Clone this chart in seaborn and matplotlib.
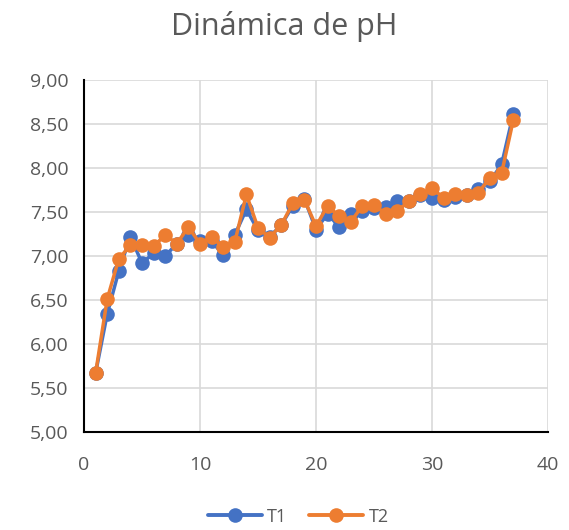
import numpy as np
import pandas as pd
import matplotlib
matplotlib.use("Agg")
import matplotlib.pyplot as plt
import seaborn as sns
from matplotlib.ticker import FuncFormatter, MultipleLocator

# ── Data ──
day = list(range(1, 38))
t1 = [5.67, 6.34, 6.83, 7.22, 6.92, 7.03, 7.00, 7.14, 7.24, 7.17,
      7.17, 7.01, 7.24, 7.53, 7.29, 7.22, 7.35, 7.57, 7.65, 7.30,
      7.48, 7.33, 7.48, 7.51, 7.54, 7.56, 7.62, 7.62, 7.69, 7.66,
      7.64, 7.67, 7.69, 7.76, 7.85, 8.04, 8.61]
t2 = [5.67, 6.51, 6.97, 7.12, 7.12, 7.11, 7.24, 7.14, 7.33, 7.14,
      7.22, 7.10, 7.16, 7.70, 7.32, 7.21, 7.35, 7.60, 7.64, 7.34,
      7.57, 7.45, 7.39, 7.57, 7.58, 7.48, 7.51, 7.62, 7.70, 7.77,
      7.66, 7.71, 7.69, 7.72, 7.89, 7.94, 8.54]
series = ["T1", "T2"]
colors = ["#4472C4", "#ED7D31"]

df = pd.DataFrame({
    "dia": day * 2,
    "pH": t1 + t2,
    "serie": ["T1"] * len(t1) + ["T2"] * len(t2),
})

sns.set_style("white")
plt.rcParams["font.family"] = ["Open Sans", "DejaVu Sans"]
grey = "#595959"

fig = plt.figure(figsize=(5.69, 5.30), dpi=100)
ax = fig.add_axes([84 / 569, 98 / 530, 464 / 569, 352 / 530])

sns.lineplot(data=df, x="dia", y="pH", hue="serie", hue_order=series,
             palette=colors, marker="o", markersize=10.5, markeredgewidth=0,
             linewidth=2.5, ax=ax, legend=False, zorder=3)

ax.set_xlim(0, 40)
ax.set_ylim(5.0, 9.0)
ax.xaxis.set_major_locator(MultipleLocator(10))
ax.yaxis.set_major_locator(MultipleLocator(0.5))
ax.yaxis.set_major_formatter(FuncFormatter(lambda v, _: f"{v:.2f}".replace(".", ",")))
ax.grid(True, color="#d9d9d9", linewidth=1.2)
ax.set_axisbelow(True)
ax.set_xlabel("")
ax.set_ylabel("")
ax.tick_params(axis="both", labelsize=14, colors=grey, length=0)
ax.tick_params(axis="y", pad=11)
ax.tick_params(axis="x", pad=17)
for s in ["top", "right"]:
    ax.spines[s].set_visible(False)
for s in ["left", "bottom"]:
    ax.spines[s].set_color("black")
    ax.spines[s].set_linewidth(1.5)

fig.text(0.5, 1 - 35 / 530, "Dinámica de pH", ha="center", va="baseline",
         fontsize=22, color=grey)

handles = [plt.Line2D([], [], color=c, marker="o", markersize=10.5,
                      markeredgewidth=0, linewidth=2.8) for c in colors]
fig.legend(handles, series, loc="center", bbox_to_anchor=(0.524, 0.025),
           ncol=2, frameon=False, fontsize=13, handlelength=3.0,
           columnspacing=1.2, handletextpad=0.3, labelcolor=grey)

fig.savefig("out.png", dpi=100)
plt.close(fig)
